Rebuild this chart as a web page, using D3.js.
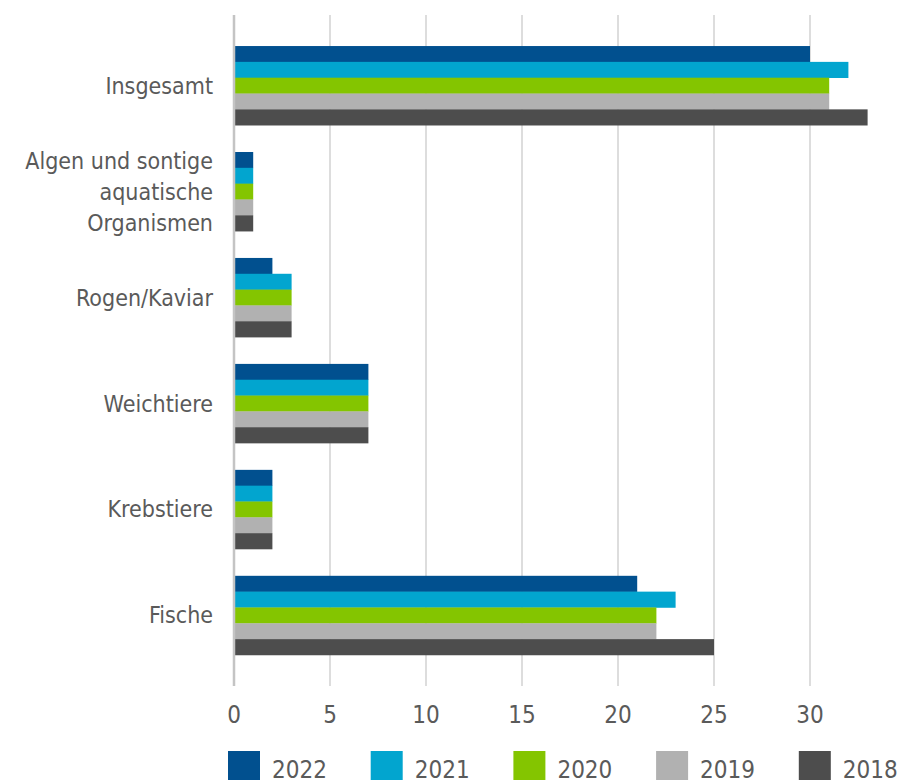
<!DOCTYPE html>
<html>
<head>
<meta charset="utf-8">
<script src="https://cdn.jsdelivr.net/npm/d3@7"></script>
<style>
  body { margin: 0; background: #fff; }
  text { font-family: "Liberation Sans Narrow", "DejaVu Sans Condensed", "Liberation Sans", sans-serif; fill: #5a5a5a; }
</style>
</head>
<body>
<div id="chart"></div>
<script>
// categories top to bottom
var categories = ["Insgesamt", "Algen und sontige aquatische Organismen", "Rogen/Kaviar", "Weichtiere", "Krebstiere", "Fische"];
var labelLines = [["Insgesamt"], ["Algen und sontige", "aquatische", "Organismen"], ["Rogen/Kaviar"], ["Weichtiere"], ["Krebstiere"], ["Fische"]];
var years = ["2022", "2021", "2020", "2019", "2018"];
var colors = ["#01508f", "#02a5cf", "#84c500", "#b1b1b1", "#4d4d4d"];

var v2022 = [30, 1, 2, 7, 2, 21];
var v2021 = [32, 1, 3, 7, 2, 23];
var v2020 = [31, 1, 3, 7, 2, 22];
var v2019 = [31, 1, 3, 7, 2, 22];
var v2018 = [33, 1, 3, 7, 2, 25];
var xTicks = [0, 5, 10, 15, 20, 25, 30];

var series = [v2022, v2021, v2020, v2019, v2018];

var width = 897, height = 780;
var plotLeft = 234, plotTop = 15, plotBottom = 686;

var svg = d3.select("#chart").append("svg")
    .attr("width", width)
    .attr("height", height);

var x = d3.scaleLinear().domain([0, 30]).range([plotLeft, 810]);

var y = d3.scaleBand()
    .domain(categories)
    .range([plotTop, plotBottom])
    .paddingInner(0.253)
    .paddingOuter(0.293);

var yInner = d3.scaleBand()
    .domain(years)
    .range([0, y.bandwidth()]);

// gridlines
svg.append("g")
    .selectAll("line")
    .data(xTicks.slice(1))
    .enter().append("line")
    .attr("x1", d => x(d)).attr("x2", d => x(d))
    .attr("y1", plotTop).attr("y2", plotBottom)
    .attr("stroke", "#d2d2d2")
    .attr("stroke-width", 1.5);

// bars
var groups = svg.selectAll(".grp")
    .data(categories)
    .enter().append("g")
    .attr("class", "grp")
    .attr("transform", d => "translate(0," + y(d) + ")");

groups.selectAll("rect")
    .data((c, i) => years.map((yr, j) => ({year: yr, value: series[j][i], j: j})))
    .enter().append("rect")
    .attr("x", x(0) + 1)
    .attr("y", d => yInner(d.year))
    .attr("width", d => x(d.value) - x(0) - 1)
    .attr("height", yInner.bandwidth() + 0.3)
    .attr("fill", d => colors[d.j]);

// axis line at 0
svg.append("line")
    .attr("x1", x(0)).attr("x2", x(0))
    .attr("y1", plotTop).attr("y2", plotBottom)
    .attr("stroke", "#c4c4c4")
    .attr("stroke-width", 2.5);

// x tick labels
svg.append("g")
    .selectAll("text")
    .data(xTicks)
    .enter().append("text")
    .attr("x", d => x(d))
    .attr("y", 723)
    .attr("text-anchor", "middle")
    .style("font-size", "24px")
    .text(d => d);

// category labels
var lineH = 31;
svg.append("g")
    .selectAll("text")
    .data(categories)
    .enter().append("text")
    .attr("text-anchor", "end")
    .style("font-size", "23px")
    .each(function(d, i) {
        var lines = labelLines[i];
        var cy = y(d) + y.bandwidth() / 2;
        var y0 = cy - (lines.length - 1) * lineH / 2;
        d3.select(this).selectAll("tspan")
            .data(lines)
            .enter().append("tspan")
            .attr("x", 213)
            .attr("y", (t, k) => y0 + k * lineH)
            .attr("dy", "0.35em")
            .text(t => t);
    });

// legend
var legend = svg.append("g")
    .selectAll("g")
    .data(years)
    .enter().append("g")
    .attr("transform", (d, i) => "translate(" + (228 + i * 142.7) + ",751)");

legend.append("rect")
    .attr("width", 32)
    .attr("height", 32)
    .attr("fill", (d, i) => colors[i]);

legend.append("text")
    .attr("x", 44)
    .attr("y", 27)
    .style("font-size", "24px")
    .text(d => d);
</script>
</body>
</html>
